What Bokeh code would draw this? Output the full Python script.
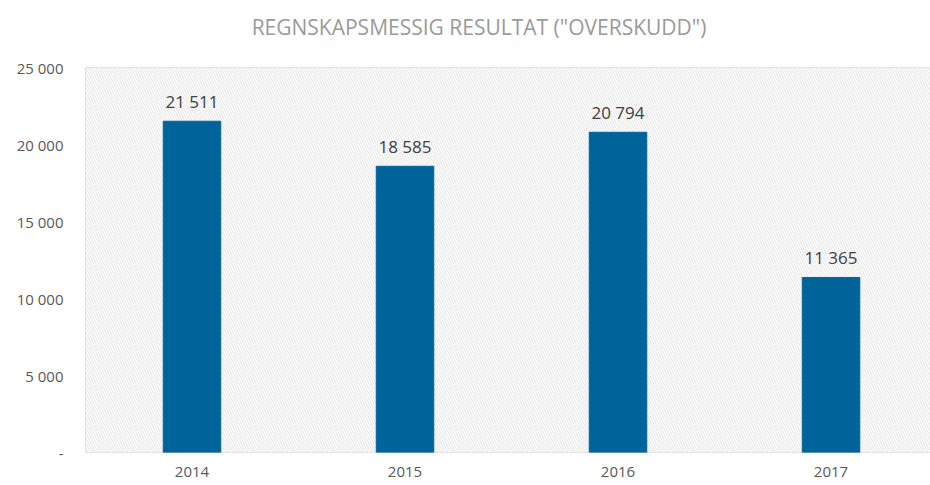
from bokeh.plotting import figure
from bokeh.layouts import column
from bokeh.models import BoxAnnotation, FixedTicker, Range1d, ColumnDataSource, LabelSet, Div
from bokeh.core.properties import value
from bokeh.embed import file_html
from bokeh.resources import INLINE
import html

years = ["2014", "2015", "2016", "2017"]
values = [21511, 18585, 20794, 11365]
y_ticks = [0, 5000, 10000, 15000, 20000, 25000]
title_text = 'REGNSKAPSMESSIG RESULTAT ("OVERSKUDD")'

def fmt(v):
    return "-" if v == 0 else f"{v:,}".replace(",", " ")

xs = [i + 0.5 for i in range(len(years))]
src = ColumnDataSource(dict(x=xs, top=values, label=[fmt(v) for v in values]))

inner = ('<div style="position:relative; top:16px; left:14px; width:930px; '
         'text-align:center; font-family:\'Open Sans\'; font-size:21px; line-height:22px; '
         'color:#9a9a9a; white-space:nowrap; margin:0; padding:0;">'
         + html.escape(title_text) + '</div>')
title = Div(text=inner, width=930, height=40, margin=0)

p = figure(width=930, height=445, output_backend="svg", toolbar_location=None,
           x_range=Range1d(0, 3.967), y_range=Range1d(0, 25000),
           min_border_left=85, min_border_right=0, min_border_top=27, min_border_bottom=33)

p.outline_line_color = "#d9d9d9"
p.background_fill_color = "white"
p.border_fill_color = "white"

bg = BoxAnnotation(fill_color="white", fill_alpha=1, hatch_pattern="left_diagonal_line",
                   hatch_color="#e2e2e2", hatch_scale=5, hatch_weight=1,
                   line_color=None, level="underlay")
p.add_layout(bg)

p.vbar(x="x", top="top", width=0.27, source=src, color="#00649a", line_color="#00649a")

labels = LabelSet(x="x", y="top", text="label", source=src, text_align="center",
                  text_baseline="bottom", y_offset=8, text_font=value("Open Sans"),
                  text_font_size=value("17px"), text_color=value("#404040"))
p.add_layout(labels)

p.xaxis.ticker = FixedTicker(ticks=xs)
p.xaxis.major_label_overrides = {x: y for x, y in zip(xs, years)}
p.xaxis.major_label_text_font = "Open Sans"
p.xaxis.major_label_text_font_size = "15px"
p.xaxis.major_label_text_color = "#595959"
p.xaxis.major_label_standoff = 8
p.xaxis.axis_line_color = None
p.xaxis.major_tick_line_color = None
p.xaxis.minor_tick_line_color = None

p.yaxis.ticker = FixedTicker(ticks=y_ticks)
p.yaxis.major_label_overrides = {t: fmt(t) for t in y_ticks}
p.yaxis.major_label_text_font = "Open Sans"
p.yaxis.major_label_text_font_size = "15px"
p.yaxis.major_label_text_color = "#595959"
p.yaxis.major_label_standoff = 16
p.yaxis.axis_line_color = None
p.yaxis.major_tick_line_color = None
p.yaxis.minor_tick_line_color = None

p.ygrid.ticker = FixedTicker(ticks=y_ticks)
p.ygrid.grid_line_color = "#d9d9d9"
p.xgrid.ticker = FixedTicker(ticks=[1, 2, 3])
p.xgrid.grid_line_color = "#d9d9d9"

layout = column(title, p, spacing=0)
open("out.html", "w").write(file_html(layout, INLINE))
